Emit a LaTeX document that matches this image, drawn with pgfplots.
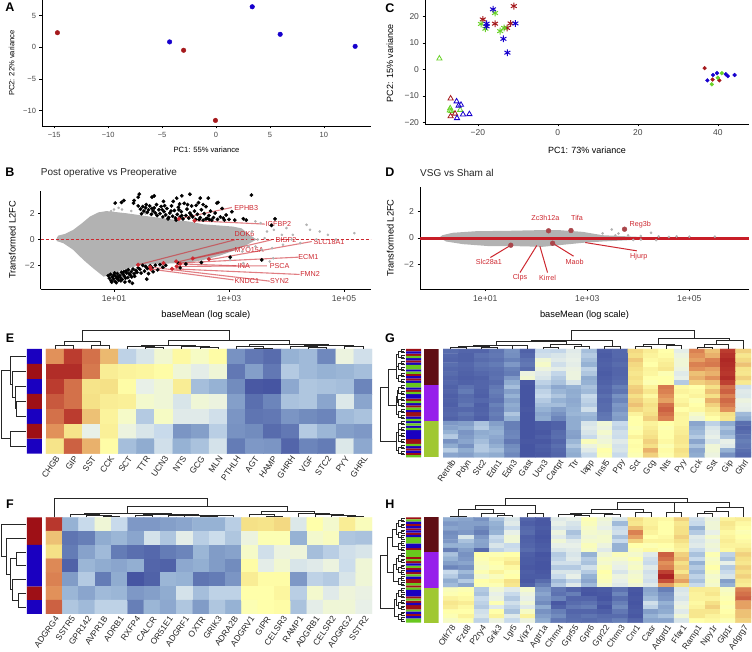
\documentclass[border=0pt]{standalone}
\usepackage{fontspec}
\setmainfont{Liberation Sans}
\usepackage{pgfplots}
\pgfplotsset{compat=1.18}
\definecolor{tickgrey}{RGB}{70,70,70}
\definecolor{annred}{RGB}{158,16,22}
\definecolor{annblue}{RGB}{26,0,192}
\definecolor{anngreen}{RGB}{104,200,30}
\definecolor{grpmaroon}{RGB}{96,14,20}
\definecolor{grppurple}{RGB}{150,30,235}
\definecolor{grpolive}{RGB}{160,200,50}
\definecolor{ptred}{RGB}{165,25,28}
\definecolor{ptblue}{RGB}{22,0,205}
\definecolor{ptgreen}{RGB}{105,210,40}
\definecolor{cloud}{RGB}{178,178,178}
\definecolor{lab}{RGB}{205,40,48}
\definecolor{dusk}{RGB}{170,70,75}
\definecolor{zeroline}{RGB}{200,30,40}
\newcommand\fs[1]{\fontsize{#1}{#1}\selectfont}
\pgfplotsset{
  every axis title shift=0pt,
  colormap={heat}{rgb255(0)=(68,82,160) rgb255(15)=(105,130,185) rgb255(30)=(150,178,212) rgb255(40)=(200,218,235) rgb255(48)=(232,240,232) rgb255(55)=(245,250,200) rgb255(62)=(255,255,170) rgb255(72)=(245,225,135) rgb255(82)=(225,145,90) rgb255(92)=(190,65,50) rgb255(100)=(165,25,30)},
  scat/.style={scale only axis, axis x line*=bottom, axis y line*=left,
    axis line style={-, line width=0.9pt, black}, tick align=outside,
    major tick length=2.5pt, tick style={black, line width=.5pt},
    tick label style={text=tickgrey}, xtick pos=bottom, ytick pos=left},
  heat/.style={scale only axis, y dir=reverse, enlargelimits=false, colormap name=heat,
    point meta min=0, point meta max=100, ytick=\empty, axis line style={draw=none},
    major tick length=0pt, tick style={draw=none},
    xticklabel style={rotate=55, anchor=north east, inner sep=1pt, font=\fs{8.5}, text=black!85}},
  strip/.style={hide axis, scale only axis, xbar, y dir=reverse, xmin=0, xmax=1, bar width=1, bar shift=0pt},
  over/.style={hide axis, scale only axis, y dir=reverse, enlargelimits=false, clip=false,
    xmin=0, xmax=1128, ymin=0, ymax=495, width=376pt, height=165pt},
  den/.style={black!85, line width=0.75pt, no marks},
}
% dendrogram merges, in 3x pixel coordinates of each panel's overlay
\newcommand\tdn[5]{\addplot[den] coordinates {(#1,#2)(#1,#5)(#3,#5)(#3,#4)};}
\newcommand\ldn[5]{\addplot[den] coordinates {(#2,#1)(#5,#1)(#5,#3)(#4,#3)};}
\newcommand\cl[3]{\addplot[den, line width=1pt] coordinates {(88,#1)(76,#1)(76,#3)(88,#3)}; \addplot[den, line width=1pt] coordinates {(84,#2)(76,#2)};}
\begin{document}
\begin{tikzpicture}
\path[use as bounding box] (0,0) rectangle (752pt,652pt);

% A
\begin{axis}[scat, at={(42pt,526pt)}, anchor=south west, width=329pt, height=126pt,
  xmin=-16.13, xmax=14.37, ymin=-12.43, ymax=7.47,
  xtick={-15,-10,-5,0,5,10}, xticklabels={−15,−10,−5,0,5,10},
  ytick={-10,-5,0,5}, yticklabels={−10,−5,0,5},
  tick label style={font=\fs{7.5}},
  xlabel={PC1: 55\% variance}, ylabel={PC2: 22\% variance},
  label style={font=\fs{7.6}},
  xlabel style={at={(axis description cs:0.5,-0.19)}, anchor=center},
  ylabel style={at={(axis description cs:-0.092,0.5)}, anchor=center}]
\addplot[only marks, mark=*, mark size=2.3pt, color=ptred] coordinates {(-14.7,2.3)(-3,-0.47)(-0.05,-11.55)};
\addplot[only marks, mark=*, mark size=2.3pt, color=ptblue] coordinates {(-4.3,0.85)(3.36,6.4)(5.95,2.05)(12.9,0.15)};
\end{axis}

% C
\begin{axis}[scat, at={(425pt,528pt)}, anchor=south west, width=324pt, height=124pt,
  xmin=-33.2, xmax=47.8, ymin=-20.5, ymax=26.1,
  xtick={-20,0,20,40}, xticklabels={−20,0,20,40},
  ytick={-20,-10,0,10,20}, yticklabels={−20,−10,0,10,20},
  tick label style={font=\fs{8.5}},
  xlabel={PC1: 73\% variance}, ylabel={PC2: 15\% variance},
  label style={font=\fs{9}},
  xlabel style={at={(axis description cs:0.5,-0.21)}, anchor=center},
  ylabel style={at={(axis description cs:-0.108,0.49)}, anchor=center}]
\addplot[only marks, mark=asterisk, mark size=3.4pt, line width=1pt, color=ptred] coordinates {(-18.75,18.8)(-11,23.8)(-15.7,17.2)(-11.8,17.3)(-12.7,15.6)};
\addplot[only marks, mark=asterisk, mark size=3.4pt, line width=1pt, color=ptgreen] coordinates {(-15.7,21.2)(-19.2,17.1)(-18.1,15.3)(-14.4,14.4)(-13.4,15.6)};
\addplot[only marks, mark=asterisk, mark size=3.4pt, line width=1pt, color=ptblue] coordinates {(-16.2,22.6)(-17.8,17.2)(-17.8,16.2)(-10.6,17.3)(-13.6,11.5)(-12.6,6.3)};
\addplot[only marks, mark=triangle, mark size=3pt, line width=.8pt, color=ptgreen] coordinates {(-29.6,4.1)(-26.9,-14.6)(-26.6,-15.6)(-24.4,-15.2)(-27,-15.4)};
\addplot[only marks, mark=triangle, mark size=3pt, line width=.8pt, color=ptred] coordinates {(-26.8,-10.9)(-26.8,-17.6)(-25.7,-16.6)};
\addplot[only marks, mark=triangle, mark size=3pt, line width=.8pt, color=ptblue] coordinates {(-25.3,-12)(-24.8,-13.6)(-24.2,-13.3)(-25.2,-18.3)(-23.7,-16.9)(-22.1,-16.8)};
\addplot[only marks, mark=*, mark size=1.9pt, color=ptred] coordinates {(36.7,0.5)(38.7,-3.8)(40.4,-4.1)};
\addplot[only marks, mark=*, mark size=1.9pt, color=ptblue] coordinates {(37.4,-4.1)(38.8,-2.1)(39.8,-1.4)(42,-1.8)(42.5,-2.5)(44.2,-2.1)};
\addplot[only marks, mark=*, mark size=1.9pt, color=ptgreen] coordinates {(41,-1.4)(40,-3.1)(38.5,-5.6)};
\end{axis}

% B
\begin{axis}[scat, at={(40.7pt,362.7pt)}, anchor=south west, width=330.3pt, height=98.6pt,
  xmin=-0.275, xmax=5.47, ymin=-3.86, ymax=3.78,
  xtick={1,3,5}, xticklabels={1e+01,1e+03,1e+05},
  ytick={-2,0,2}, yticklabels={−2,0,2},
  tick label style={font=\fs{8.6}},
  xlabel={baseMean (log scale)}, ylabel={Transformed L2FC},
  label style={font=\fs{9.3}},
  xlabel style={at={(axis description cs:0.5,-0.26)}, anchor=center},
  ylabel style={at={(axis description cs:-0.086,0.5)}, anchor=center},
  title={Post operative vs Preoperative},
  title style={at={(axis description cs:0,1.176)}, anchor=west, font=\fs{10}, inner sep=0pt, text=black!85}]
\addplot[fill=cloud, draw=none] coordinates {(0,0.09)(.03,.3)(.146,.43)(.29,.74)(.44,1.25)(.58,1.77)(.73,2.1)(.87,2.2)(1.22,2.03)(1.63,1.77)(2.32,1.38)(2.55,1.18)(3.07,1)(3.22,.86)(3.36,.35)(3.48,0)(3.31,-.42)(3.13,-.8)(2.84,-1.25)(2.55,-1.6)(2.26,-1.8)(1.97,-1.86)(1.74,-1.9)(1.45,-1.98)(1.16,-2.36)(.93,-2.76)(.82,-2.88)(.64,-2.24)(.47,-1.59)(.29,-.8)(.12,-.29)(0,-.12)} --cycle;
\addplot[only marks, mark=*, mark size=1.1pt, color=cloud] coordinates {(3.46,1.4)(3.55,1.27)(3.66,.62)(3.78,.75)(3.92,.36)(4.0,.88)(4.11,.36)(4.35,1.14)(4.41,.75)(4.58,.62)(4.72,.36)(4.86,0)(5.18,.49)(4.52,0)(3.34,0)(3.46,-.54)(3.75,-.67)(3.57,-.8)(3.94,-.41)(3.77,-1.45)(3.34,-.54)(3.23,-.93)(4.24,-.28)(3.02,-1.58)(3.25,-1.84)(3.71,-1.71)(3.62,.1)(4.09,0)(3.4,.62)(3.5,0)(1.0,2.32)(1.08,2.45)(1.14,2.32)(.99,2.06)(1.16,1.93)(.95,2.2)(.78,1.4)(.87,2.06)(1.3,2.2)(1.55,2.0)};
\addplot[only marks, mark=*, mark size=1.7pt, color=black] coordinates {(1.02,2.82)(1.13,2.87)(1.17,3.02)(1.35,3.02)(1.34,2.82)(1.44,3.51)(1.42,3.28)(1.66,3.28)(1.7,3.38)(1.86,2.95)(2.09,3.2)(2.32,3.51)(2.18,3.38)(2.5,3.2)(2.64,3.2)(2.79,2.82)(2.81,2.87)(3.39,3.44)(3.8,1.6)(3.74,1.09)(3.57,-1.58)(3.02,-1.37)(2.52,-1.78)(1.57,-3.07)
(1.42,2.6)(1.46,2.35)(1.5,2.55)(1.52,2.2)(1.55,2.45)(1.58,2.1)(1.6,2.3)(1.62,2.6)(1.65,1.95)(1.68,2.2)(1.7,2.45)(1.72,2.05)(1.75,1.85)(1.78,2.3)(1.8,2)(1.82,2.55)(1.85,1.75)(1.87,2.15)(1.9,1.9)(1.92,2.4)(1.95,1.7)(1.97,2.05)(2,2.6)(2.02,1.8)(2.05,2.25)(2.07,1.65)(2.1,1.95)(2.12,2.5)(2.15,1.75)(2.17,2.15)(2.2,1.6)(2.22,2.8)(2.25,1.85)(2.27,2.35)(2.3,1.65)(2.32,2.05)(2.35,2.6)(2.37,1.75)(2.4,2.2)(2.42,1.55)(2.45,1.95)(2.47,2.85)(2.5,1.7)(2.52,2.3)(2.55,1.5)(2.57,2)(2.6,2.55)(2.62,1.65)(2.65,1.85)(2.68,2.2)(2.7,1.5)(2.73,1.7)(2.76,2.05)(2.8,1.55)(2.85,1.75)(2.88,2.4)(2.92,1.5)(2.95,1.9)(3,1.55)(3.05,2.15)(3.1,1.5)(3.25,1.6)(3.3,1.5)(1.48,2)(1.56,2.7)(1.74,2.7)(1.88,2.62)(2.03,2.95)(2.14,2.75)(2.28,2.7)(2.43,2.65)(2.55,2.7)(1.94,1.6)(2.08,1.5)(2.18,1.85)(2.34,1.9)(2.48,1.55)(2.6,1.6)(2.66,1.55)(2.9,1.65)(1.66,2.4)(1.84,2.3)(1.99,2.2)(2.13,2.3)
(.9,-2.8)(.92,-3)(.94,-2.7)(.95,-3.2)(.97,-2.9)(.99,-3.05)(1,-2.75)(1.02,-3.25)(1.03,-2.85)(1.05,-3)(1.06,-2.65)(1.08,-3.15)(1.1,-2.8)(1.11,-2.95)(1.13,-2.55)(1.14,-3.1)(1.16,-2.7)(1.18,-2.85)(1.19,-3.3)(1.21,-2.45)(1.22,-2.6)(1.24,-2.95)(1.25,-2.35)(1.27,-3.25)(1.28,-2.75)(1.3,-2.5)(1.32,-3.4)(1.33,-2.3)(1.35,-2.65)(1.36,-2.85)(1.38,-2.4)(1.4,-2.55)(1.42,-2.2)(1.45,-2.3)(1.47,-2.6)(1.5,-2)(1.53,-2.45)(1.55,-2.1)(1.58,-2.25)(1.6,-2.65)(1.63,-2.05)(1.66,-2.2)(1.68,-2.5)(1.72,-2)(1.76,-2.35)(1.8,-1.95)(1.85,-2.15)(1.9,-2)(.96,-3.3)(1.01,-2.6)(1.04,-3.35)(1.07,-2.9)(1.12,-3.2)(1.17,-2.5)(1.2,-3)(1.26,-2.65)(1.31,-2.9)(2.12,-1.85)(2.15,-2.2)(2.25,-1.9)};
\addplot[color=lab, densely dashed, line width=.6pt] coordinates {(-0.275,0)(5.47,0)};
\addplot[color=lab, opacity=.6, line width=1.1pt] coordinates {(2.13,1.6)(3.05,2.48)};
\addplot[color=lab, opacity=.6, line width=1.1pt] coordinates {(2.4,1.45)(3.63,1.19)};
\addplot[color=lab, opacity=.6, line width=1.1pt] coordinates {(1.42,-1.96)(3.1,-.03)};
\addplot[color=lab, opacity=.6, line width=1.1pt] coordinates {(2.09,-1.76)(3.74,-.03)};
\addplot[color=lab, opacity=.6, line width=1.1pt] coordinates {(2.65,-1.58)(4.44,-.16)};
\addplot[color=lab, opacity=.6, line width=1.1pt] coordinates {(2.37,-1.5)(3.1,-.8)};
\addplot[color=lab, opacity=.6, line width=1.1pt] coordinates {(2.09,-1.83)(4.21,-1.37)};
\addplot[color=lab, opacity=.6, line width=1.1pt] coordinates {(2.15,-1.89)(3.13,-2.04)};
\addplot[color=lab, opacity=.6, line width=1.1pt] coordinates {(2.09,-2.09)(3.66,-2.04)};
\addplot[color=lab, opacity=.6, line width=1.1pt] coordinates {(2.01,-2.27)(4.23,-2.71)};
\addplot[color=lab, opacity=.6, line width=1.1pt] coordinates {(1.63,-2.14)(3.71,-3.23)};
\addplot[color=lab, opacity=.6, line width=1.1pt] coordinates {(1.64,-2.3)(3.08,-3.13)};
\addplot[only marks, mark=*, mark size=1.9pt, color=lab] coordinates {(2.13,1.6)(2.4,1.45)(1.42,-1.96)(1.63,-2.14)(1.64,-2.3)(1.86,-1.83)(2.08,-1.7)(2.09,-2.09)(2.15,-1.89)(2.01,-2.27)(2.37,-1.47)(2.65,-1.52)};
\begin{scope}[every node/.style={font=\fs{7.2}, text=lab, inner sep=0pt}]
\node at (axis cs:3.30,2.45) {EPHB3};
\node at (axis cs:3.86,1.19) {IGFBP2};
\node at (axis cs:3.27,.39) {DOK6};
\node at (axis cs:3.99,-.03) {DISP2};
\node at (axis cs:4.74,-.21) {SLC18A1};
\node at (axis cs:3.35,-.85) {MYO15A};
\node at (axis cs:4.38,-1.37) {ECM1};
\node at (axis cs:3.26,-2.04) {INA};
\node at (axis cs:3.88,-2.04) {PSCA};
\node at (axis cs:4.41,-2.71) {FMN2};
\node at (axis cs:3.31,-3.23) {KNDC1};
\node at (axis cs:3.88,-3.23) {SYN2};
\end{scope}
\end{axis}

% D
\begin{axis}[scat, at={(420pt,363pt)}, anchor=south west, width=329pt, height=101.7pt,
  xmin=-0.28, xmax=6.17, ymin=-3.82, ymax=3.8,
  xtick={1,3,5}, xticklabels={1e+01,1e+03,1e+05},
  ytick={-2,0,2}, yticklabels={−2,0,2},
  tick label style={font=\fs{8.6}},
  xlabel={baseMean (log scale)}, ylabel={Transformed L2FC},
  label style={font=\fs{9.3}},
  xlabel style={at={(axis description cs:0.5,-0.256)}, anchor=center},
  ylabel style={at={(axis description cs:-0.09,0.5)}, anchor=center},
  title={VSG vs Sham al},
  title style={at={(axis description cs:0,1.138)}, anchor=west, font=\fs{10}, inner sep=0pt, text=black!85}]
\addplot[fill=cloud, draw=none] coordinates {(.1,.04)(.16,.21)(.36,.39)(.82,.51)(1.47,.54)(2.06,.59)(2.45,.59)(2.91,.46)(3.3,.21)(3.69,.14)(4.28,.04)(3.82,-.16)(3.3,-.26)(2.91,-.36)(2.52,-.51)(2.12,-.66)(1.6,-.61)(1.08,-.61)(.56,-.46)(.23,-.26)} --cycle;
\addplot[only marks, mark=*, mark size=1.1pt, color=cloud] coordinates {(3.48,.64)(3.61,.34)(4.25,.39)(3.8,.2)(4.05,.15)(4.4,.12)(4.75,.12)(5,.1)(5.5,.1)(4.35,-.16)(4.05,-.12)(3.9,-.15)(3.3,.35)(3.55,.2)(4.6,.08)};
\addplot[color=zeroline, line width=3pt] coordinates {(-0.28,0)(6.17,0)};
\addplot[color=lab, line width=1pt] coordinates {(1.47,-.61)(1.1,-1.46)};
\addplot[color=lab, line width=1pt] coordinates {(2.01,-.56)(1.68,-2.59)};
\addplot[color=lab, line width=1pt] coordinates {(2.07,-.61)(2.22,-2.59)};
\addplot[color=lab, line width=1pt] coordinates {(2.32,-.39)(2.73,-1.36)};
\addplot[color=lab, line width=1pt] coordinates {(2.96,-.34)(3.97,-.96)};
\addplot[only marks, mark=*, mark size=2.4pt, color=dusk] coordinates {(2.24,.54)(2.68,.56)(3.73,.66)(1.5,-.54)(2.32,-.39)};
\begin{scope}[every node/.style={font=\fs{7.2}, text=lab, inner sep=0pt}]
\node at (axis cs:2.18,1.49) {Zc3h12a};
\node at (axis cs:2.8,1.49) {Tifa};
\node at (axis cs:4.04,1.01) {Reg3b};
\node at (axis cs:1.07,-1.81) {Slc28a1};
\node at (axis cs:1.68,-2.96) {Clps};
\node at (axis cs:2.22,-3.01) {Kirrel};
\node at (axis cs:2.75,-1.81) {Maob};
\node at (axis cs:4.01,-1.41) {Hjurp};
\end{scope}
\end{axis}

% E
\begin{axis}[strip, at={(27pt,198.3pt)}, anchor=south west, width=15pt, height=104.7pt, ymin=0.5, ymax=7.5]
\addplot[fill=annblue, draw=none] coordinates {(1,1)(1,3)(1,5)(1,7)};
\addplot[fill=annred, draw=none] coordinates {(1,2)(1,4)(1,6)};
\end{axis}
\begin{axis}[heat, at={(46pt,198.3pt)}, anchor=south west, width=326pt, height=104.7pt,
  xmin=-0.5, xmax=17.5, ymin=-0.5, ymax=6.5, xtick={0,...,17},
  xticklabels={CHGB,GIP,SST,CCK,SCT,TTR,UCN3,NTS,GCG,MLN,PTHLH,AGT,HAMP,GHRH,VGF,STC2,PYY,GHRL}]
\addplot[matrix plot*, mesh/cols=18, point meta=explicit] table[row sep=\\, x expr={mod(\coordindex,18)}, y expr={floor((\coordindex+0.5)/18)}, meta index=0] {
82\\93\\86\\77\\38\\44\\53\\64\\56\\63\\20\\12\\8\\30\\32\\17\\50\\42\\
96\\96\\85\\68\\66\\65\\63\\52\\47\\52\\12\\24\\12\\36\\32\\30\\31\\33\\
93\\86\\71\\72\\63\\48\\52\\68\\33\\30\\18\\2\\1\\27\\35\\34\\33\\16\\
89\\86\\72\\68\\67\\54\\52\\44\\52\\50\\24\\9\\16\\34\\35\\26\\45\\26\\
86\\93\\76\\66\\55\\36\\56\\46\\46\\42\\21\\11\\12\\21\\18\\16\\32\\34\\
82\\71\\48\\67\\50\\44\\40\\21\\24\\37\\20\\18\\8\\12\\36\\31\\24\\22\\
71\\88\\78\\63\\33\\28\\42\\30\\34\\43\\13\\22\\21\\6\\16\\13\\45\\27\\
};
\end{axis}
\begin{axis}[over, at={(0pt,162pt)}, anchor=south west]
\tdn{165}{72}{219}{72}{62}\tdn{274}{72}{328}{72}{62}\tdn{192}{62}{301}{62}{50}
\tdn{437}{72}{491}{72}{68}\tdn{382}{72}{464}{68}{63}\tdn{600}{72}{654}{72}{68}\tdn{545}{72}{627}{68}{64}\tdn{423}{63}{586}{64}{60}
\tdn{763}{72}{817}{72}{70}\tdn{708}{72}{790}{70}{65}\tdn{926}{72}{980}{72}{68}\tdn{871}{72}{953}{68}{65}\tdn{1034}{72}{1089}{72}{65}\tdn{912}{65}{1061}{65}{62}\tdn{749}{65}{986}{62}{58}
\tdn{505}{60}{868}{58}{45}\tdn{247}{50}{687}{45}{15}
\ldn{229}{78}{274}{78}{50}\ldn{184}{78}{251}{50}{45}\ldn{139}{78}{218}{45}{37}\ldn{94}{78}{178}{37}{30}\ldn{319}{78}{364}{78}{30}\ldn{136}{30}{341}{30}{5}
\end{axis}

% F
\begin{axis}[strip, at={(27pt,38pt)}, anchor=south west, width=15pt, height=96.7pt, ymin=0.5, ymax=7.5]
\addplot[fill=annred, draw=none] coordinates {(1,1)(1,2)(1,6)};
\addplot[fill=annblue, draw=none] coordinates {(1,3)(1,4)(1,5)(1,7)};
\end{axis}
\begin{axis}[heat, at={(46pt,38pt)}, anchor=south west, width=326pt, height=96.7pt,
  xmin=-0.5, xmax=19.5, ymin=-0.5, ymax=6.5, xtick={0,...,19},
  xticklabels={ADGRG4,SSTR5,GPR142,AVPR1B,ADRB1,RXFP4,CALCR,OR51E1,ADGRF1,OXTR,GRIK3,ADRA2B,ADGRV1,GIPR,CELSR3,RAMP1,ADGRB1,CELSR2,ADGRG2,SSTR2}]
\addplot[matrix plot*, mesh/cols=20, point meta=explicit] table[row sep=\\, x expr={mod(\coordindex,20)}, y expr={floor((\coordindex+0.5)/20)}, meta index=0] {
94\\30\\40\\52\\40\\22\\22\\24\\26\\30\\30\\37\\72\\71\\73\\45\\62\\54\\68\\58\\
76\\11\\14\\28\\31\\26\\43\\35\\47\\37\\41\\35\\50\\60\\60\\30\\54\\57\\35\\34\\
72\\13\\25\\32\\13\\9\\7\\13\\16\\31\\23\\25\\55\\42\\50\\51\\33\\37\\42\\44\\
83\\5\\31\\28\\26\\29\\6\\5\\27\\29\\23\\18\\63\\47\\53\\44\\46\\50\\41\\52\\
84\\23\\36\\13\\28\\1\\5\\31\\30\\11\\13\\21\\68\\63\\63\\22\\38\\36\\44\\52\\
82\\31\\26\\32\\31\\22\\24\\28\\43\\33\\38\\38\\62\\62\\65\\37\\54\\46\\51\\49\\
88\\35\\32\\38\\38\\14\\31\\27\\35\\23\\35\\30\\60\\62\\63\\34\\47\\52\\52\\48\\
};
\end{axis}
\begin{axis}[over, at={(0pt,0pt)}, anchor=south west]
\tdn{309}{91}{358}{91}{87}\tdn{260}{91}{333}{87}{84}\tdn{211}{91}{297}{84}{81}
\tdn{407}{91}{456}{91}{85}\tdn{602}{91}{651}{91}{87}\tdn{627}{87}{700}{91}{85}\tdn{505}{91}{554}{91}{85}\tdn{530}{85}{663}{85}{84}\tdn{431}{85}{596}{84}{82}\tdn{254}{81}{513}{82}{79}
\tdn{798}{91}{847}{91}{87}\tdn{749}{91}{822}{87}{82}\tdn{1043}{91}{1091}{91}{87}\tdn{994}{91}{1067}{87}{84}\tdn{945}{91}{1030}{84}{82}\tdn{896}{91}{988}{82}{78}\tdn{785}{82}{942}{78}{72}
\tdn{383}{79}{863}{72}{58}\tdn{162}{91}{623}{58}{35}
\ldn{195}{78}{236}{78}{48}\ldn{319}{78}{360}{78}{55}\ldn{277}{78}{340}{55}{38}\ldn{215}{48}{308}{38}{30}\ldn{153}{78}{262}{30}{20}\ldn{112}{78}{207}{20}{5}
\end{axis}

% G
\begin{axis}[strip, at={(406pt,194.7pt)}, anchor=south west, width=15pt, height=108.3pt, ymin=0.5, ymax=48.5]
\addplot[fill=annred, draw=none] coordinates {(1,1)(1,3)(1,6)(1,12)(1,14)(1,19)(1,23)(1,26)(1,29)(1,30)(1,41)(1,42)(1,45)(1,47)};
\addplot[fill=annblue, draw=none] coordinates {(1,2)(1,5)(1,7)(1,10)(1,13)(1,15)(1,18)(1,21)(1,22)(1,25)(1,28)(1,31)(1,33)(1,35)(1,37)(1,38)(1,39)(1,40)(1,44)(1,46)};
\addplot[fill=anngreen, draw=none] coordinates {(1,4)(1,8)(1,9)(1,11)(1,16)(1,17)(1,20)(1,24)(1,27)(1,32)(1,34)(1,36)(1,43)(1,48)};
\end{axis}
\begin{axis}[strip, at={(424pt,194.7pt)}, anchor=south west, width=14.7pt, height=108.3pt, ymin=0.5, ymax=3.5]
\addplot[fill=grpmaroon, draw=none] coordinates {(1,1)};
\addplot[fill=grppurple, draw=none] coordinates {(1,2)};
\addplot[fill=grpolive, draw=none] coordinates {(1,3)};
\end{axis}
\begin{axis}[heat, at={(443pt,194.7pt)}, anchor=south west, width=308pt, height=108.3pt,
  xmin=-0.5, xmax=19.5, ymin=-0.5, ymax=23.5, xtick={0,...,19},
  xticklabels={Retnlb,Pdyn,Stc2,Edn1,Edn3,Gast,Ucn3,Cartpt,Ttr,Iapp,Insl5,Ppy,Sct,Gcg,Nts,Pyy,Cck,Sst,Gip,Ghrl}]
\addplot[matrix plot*, mesh/cols=20, point meta=explicit] table[row sep=\\, x expr={mod(\coordindex,20)}, y expr={floor((\coordindex+0.5)/20)}, meta index=0] {
8\\6\\6\\11\\20\\5\\40\\39\\46\\33\\4\\7\\73\\68\\62\\47\\84\\76\\93\\74\\
7\\5\\10\\12\\19\\7\\42\\44\\47\\36\\3\\7\\72\\66\\63\\50\\82\\78\\95\\70\\
6\\5\\8\\10\\15\\10\\52\\46\\48\\33\\4\\6\\75\\64\\66\\52\\80\\84\\97\\73\\
9\\7\\11\\13\\22\\12\\55\\42\\47\\30\\5\\8\\73\\62\\68\\52\\84\\85\\96\\76\\
7\\6\\9\\10\\15\\8\\50\\47\\49\\38\\4\\6\\72\\66\\70\\50\\82\\80\\95\\71\\
8\\5\\7\\9\\13\\50\\46\\39\\50\\35\\3\\6\\70\\65\\60\\46\\76\\78\\94\\70\\
6\\4\\5\\10\\22\\53\\44\\36\\50\\28\\4\\7\\72\\62\\62\\48\\78\\82\\96\\74\\
7\\5\\6\\8\\28\\2\\38\\34\\44\\30\\5\\8\\70\\60\\62\\36\\74\\76\\92\\69\\
5\\10\\6\\12\\33\\1\\34\\27\\30\\34\\7\\14\\74\\66\\85\\64\\62\\72\\86\\42\\
6\\13\\5\\14\\24\\1\\38\\31\\28\\32\\6\\11\\75\\70\\84\\66\\64\\76\\88\\46\\
4\\8\\4\\12\\30\\1\\40\\35\\29\\40\\9\\20\\72\\64\\82\\63\\66\\72\\84\\45\\
5\\9\\7\\10\\24\\1\\36\\30\\27\\38\\7\\16\\74\\69\\80\\65\\60\\78\\87\\50\\
4\\12\\4\\15\\28\\1\\33\\33\\28\\36\\8\\22\\76\\72\\86\\68\\62\\74\\85\\48\\
6\\7\\5\\12\\26\\2\\30\\24\\30\\42\\8\\20\\73\\70\\88\\62\\64\\70\\82\\47\\
7\\11\\6\\14\\35\\1\\26\\20\\31\\32\\11\\25\\66\\72\\86\\66\\56\\66\\72\\32\\
5\\8\\4\\12\\30\\1\\28\\16\\28\\30\\12\\23\\62\\74\\84\\65\\52\\62\\70\\28\\
22\\24\\34\\24\\14\\1\\3\\5\\28\\44\\52\\40\\62\\66\\62\\65\\26\\38\\28\\9\\
25\\28\\36\\28\\14\\1\\3\\5\\28\\46\\50\\38\\60\\68\\60\\67\\30\\44\\34\\6\\
30\\21\\28\\30\\16\\1\\2\\8\\25\\44\\54\\42\\62\\70\\62\\68\\32\\46\\30\\8\\
36\\23\\30\\27\\17\\1\\4\\9\\24\\40\\50\\41\\66\\72\\62\\70\\36\\48\\34\\11\\
20\\26\\33\\25\\12\\2\\2\\6\\31\\58\\52\\46\\62\\74\\64\\70\\26\\44\\48\\14\\
28\\20\\36\\29\\18\\1\\4\\9\\35\\50\\56\\43\\63\\72\\60\\68\\34\\52\\46\\12\\
37\\28\\36\\33\\20\\1\\3\\7\\30\\46\\62\\44\\62\\78\\63\\72\\26\\52\\30\\9\\
26\\24\\30\\28\\17\\1\\2\\6\\28\\40\\60\\40\\60\\74\\61\\70\\28\\50\\20\\7\\
};
\end{axis}
\begin{axis}[over, at={(376pt,162pt)}, anchor=south west]
\tdn{224}{72}{270}{72}{68}\tdn{317}{72}{363}{72}{68}\tdn{247}{68}{340}{68}{65}\tdn{409}{72}{455}{72}{62}\tdn{293}{65}{432}{62}{60}
\tdn{501}{72}{548}{72}{68}\tdn{594}{72}{640}{72}{65}\tdn{524}{68}{617}{65}{57}\tdn{362}{60}{570}{57}{50}\tdn{686}{72}{732}{72}{65}\tdn{466}{50}{709}{65}{45}
\tdn{779}{72}{825}{72}{65}\tdn{871}{72}{917}{72}{60}\tdn{802}{65}{894}{60}{58}\tdn{963}{72}{1010}{72}{68}\tdn{986}{68}{1056}{72}{57}\tdn{1021}{57}{1102}{72}{47}\tdn{848}{58}{1061}{47}{41}
\tdn{587}{45}{955}{41}{15}
\cl{74}{79}{84}\cl{92}{97}{102}\cl{110}{115}{120}\cl{128}{133}{138}\cl{146}{151}{156}\cl{164}{169}{174}
\cl{182}{187}{192}\cl{200}{205}{210}\cl{218}{223}{228}\cl{236}{241}{246}\cl{254}{259}{264}\cl{272}{277}{282}
\cl{290}{295}{300}\cl{308}{313}{318}\cl{326}{331}{336}\cl{344}{349}{354}\cl{362}{367}{372}\cl{380}{385}{390}
\ldn{79}{76}{97}{76}{66}\ldn{115}{76}{133}{76}{66}\ldn{151}{76}{169}{76}{66}\ldn{88}{66}{124}{66}{62}\ldn{106}{62}{160}{66}{60}
\ldn{187}{76}{205}{76}{66}\ldn{223}{76}{241}{76}{66}\ldn{259}{76}{277}{76}{66}\ldn{196}{66}{232}{66}{64}\ldn{214}{64}{268}{66}{60}\ldn{133}{60}{241}{60}{38}
\ldn{295}{76}{313}{76}{66}\ldn{331}{76}{349}{76}{66}\ldn{367}{76}{385}{76}{66}\ldn{304}{66}{340}{66}{66}\ldn{322}{66}{376}{66}{62}\ldn{187}{38}{349}{62}{12}
\end{axis}

% H
\begin{axis}[strip, at={(406pt,29.3pt)}, anchor=south west, width=15pt, height=105.4pt, ymin=0.5, ymax=48.5]
\addplot[fill=annred, draw=none] coordinates {(1,1)(1,4)(1,6)(1,8)(1,15)(1,19)(1,21)(1,24)(1,26)(1,29)(1,30)(1,32)(1,37)(1,39)(1,41)(1,42)(1,45)};
\addplot[fill=anngreen, draw=none] coordinates {(1,2)(1,10)(1,11)(1,12)(1,16)(1,17)(1,18)(1,20)(1,23)(1,27)(1,31)(1,33)(1,38)(1,43)(1,47)(1,48)};
\addplot[fill=annblue, draw=none] coordinates {(1,3)(1,5)(1,7)(1,9)(1,13)(1,14)(1,22)(1,25)(1,28)(1,34)(1,35)(1,36)(1,40)(1,44)(1,46)};
\end{axis}
\begin{axis}[strip, at={(424pt,29.3pt)}, anchor=south west, width=14.7pt, height=105.4pt, ymin=0.5, ymax=3.5]
\addplot[fill=grpmaroon, draw=none] coordinates {(1,1)};
\addplot[fill=grppurple, draw=none] coordinates {(1,2)};
\addplot[fill=grpolive, draw=none] coordinates {(1,3)};
\end{axis}
\begin{axis}[heat, at={(443pt,29.3pt)}, anchor=south west, width=308pt, height=105.4pt,
  xmin=-0.5, xmax=19.5, ymin=-0.5, ymax=23.5, xtick={0,...,19},
  xticklabels={Olfr78,Fzd8,P2ry4,Grik3,Lgr5,Vipr2,Agtr1a,Chrm4,Gpr55,Gpr6,Gpr22,Chrm3,Cnr1,Casr,Adgrd1,Ffar1,Ramp1,Npy1r,Glp1r,Adgrg7}]
\addplot[matrix plot*, mesh/cols=20, point meta=explicit] table[row sep=\\, x expr={mod(\coordindex,20)}, y expr={floor((\coordindex+0.5)/20)}, meta index=0] {
28\\26\\20\\34\\44\\6\\2\\46\\48\\60\\52\\44\\72\\66\\64\\74\\42\\50\\66\\68\\
22\\24\\24\\30\\46\\4\\2\\48\\44\\58\\50\\32\\70\\66\\62\\70\\40\\52\\70\\64\\
26\\24\\18\\28\\40\\7\\3\\44\\42\\55\\48\\40\\76\\68\\62\\72\\30\\52\\68\\62\\
18\\22\\14\\30\\48\\8\\2\\50\\34\\54\\52\\42\\84\\66\\62\\72\\36\\48\\64\\60\\
20\\44\\22\\40\\52\\4\\1\\46\\38\\52\\54\\34\\80\\62\\64\\74\\46\\54\\66\\62\\
22\\34\\26\\38\\52\\5\\2\\52\\46\\54\\54\\40\\74\\66\\66\\72\\44\\50\\68\\64\\
30\\30\\25\\44\\40\\6\\3\\48\\48\\58\\50\\30\\62\\60\\62\\68\\46\\52\\66\\66\\
14\\24\\8\\38\\42\\8\\4\\44\\46\\56\\46\\30\\58\\64\\60\\66\\40\\50\\64\\70\\
34\\20\\62\\60\\62\\4\\1\\36\\44\\30\\52\\58\\54\\46\\88\\74\\34\\60\\38\\74\\
30\\22\\60\\64\\66\\3\\2\\38\\46\\36\\56\\54\\60\\42\\86\\76\\40\\56\\34\\72\\
24\\26\\58\\62\\70\\3\\1\\42\\42\\34\\54\\50\\54\\40\\82\\72\\30\\58\\48\\70\\
16\\20\\56\\60\\64\\2\\1\\36\\36\\42\\58\\48\\56\\46\\84\\74\\36\\62\\36\\74\\
40\\32\\60\\66\\60\\4\\2\\44\\44\\36\\62\\44\\52\\42\\92\\70\\32\\58\\40\\72\\
36\\26\\54\\58\\62\\3\\3\\40\\48\\30\\60\\50\\54\\44\\98\\76\\38\\54\\44\\74\\
28\\36\\62\\64\\72\\2\\8\\32\\38\\26\\58\\48\\56\\42\\90\\80\\34\\56\\24\\70\\
32\\26\\60\\60\\70\\5\\14\\36\\46\\32\\54\\46\\52\\46\\80\\72\\40\\54\\30\\68\\
58\\60\\36\\52\\46\\54\\22\\12\\6\\2\\3\\10\\2\\26\\14\\44\\68\\68\\56\\84\\
60\\62\\34\\48\\40\\50\\26\\10\\14\\1\\2\\16\\1\\28\\20\\46\\66\\70\\58\\86\\
66\\64\\40\\50\\36\\48\\22\\16\\6\\6\\1\\9\\2\\32\\22\\44\\66\\66\\60\\88\\
70\\68\\38\\60\\42\\52\\18\\2\\8\\10\\4\\14\\1\\42\\30\\48\\64\\72\\62\\80\\
68\\64\\36\\46\\38\\46\\28\\5\\12\\14\\1\\18\\2\\38\\26\\50\\66\\74\\60\\80\\
62\\62\\42\\62\\34\\56\\20\\14\\6\\6\\4\\12\\3\\24\\28\\46\\70\\70\\62\\76\\
60\\66\\44\\66\\46\\66\\24\\18\\8\\11\\8\\8\\2\\30\\34\\52\\70\\66\\64\\76\\
56\\60\\38\\50\\40\\50\\28\\12\\9\\8\\10\\14\\6\\26\\26\\44\\62\\64\\60\\74\\
};
\end{axis}
\begin{axis}[over, at={(376pt,0pt)}, anchor=south west]
\tdn{224}{91}{270}{91}{87}\tdn{363}{91}{409}{91}{85}\tdn{317}{91}{386}{85}{78}\tdn{247}{87}{351}{78}{67}\tdn{455}{91}{501}{91}{80}\tdn{299}{67}{478}{80}{55}
\tdn{594}{91}{640}{91}{85}\tdn{548}{91}{617}{85}{83}\tdn{686}{91}{732}{91}{83}\tdn{582}{83}{709}{83}{80}\tdn{779}{91}{825}{91}{75}\tdn{646}{80}{802}{75}{68}\tdn{871}{91}{917}{91}{75}\tdn{724}{68}{894}{75}{45}
\tdn{963}{91}{1010}{91}{78}\tdn{986}{78}{1056}{91}{72}\tdn{1021}{72}{1102}{91}{62}\tdn{809}{45}{1061}{62}{45}\tdn{389}{55}{935}{45}{35}
\cl{95}{100}{105}\cl{112}{117}{122}\cl{130}{135}{140}\cl{147}{152}{157}\cl{165}{170}{175}\cl{182}{187}{192}
\cl{200}{205}{210}\cl{217}{222}{227}\cl{235}{240}{245}\cl{252}{257}{262}\cl{270}{275}{280}\cl{287}{292}{297}
\cl{306}{311}{316}\cl{323}{328}{333}\cl{341}{346}{351}\cl{358}{363}{368}\cl{376}{381}{386}\cl{393}{398}{403}
\ldn{100}{76}{117}{76}{66}\ldn{135}{76}{152}{76}{66}\ldn{170}{76}{187}{76}{66}\ldn{108}{66}{143}{66}{62}\ldn{126}{62}{178}{66}{48}
\ldn{205}{76}{222}{76}{66}\ldn{240}{76}{257}{76}{66}\ldn{275}{76}{292}{76}{66}\ldn{213}{66}{248}{66}{62}\ldn{231}{62}{283}{66}{52}\ldn{152}{48}{257}{52}{35}
\ldn{311}{76}{328}{76}{66}\ldn{346}{76}{363}{76}{66}\ldn{381}{76}{398}{76}{66}\ldn{319}{66}{354}{66}{62}\ldn{337}{62}{389}{66}{56}\ldn{205}{35}{363}{56}{12}
\end{axis}

% panel letters
\begin{scope}[every node/.style={font=\bfseries\fs{12.5}, inner sep=0pt}]
\node at (10pt,644.5pt) {A};
\node at (390pt,644pt) {C};
\node at (10pt,479.3pt) {B};
\node at (390pt,479.3pt) {D};
\node at (10pt,314pt) {E};
\node at (10pt,148pt) {F};
\node at (390pt,314pt) {G};
\node at (390pt,148pt) {H};
\end{scope}
\end{tikzpicture}
\end{document}
